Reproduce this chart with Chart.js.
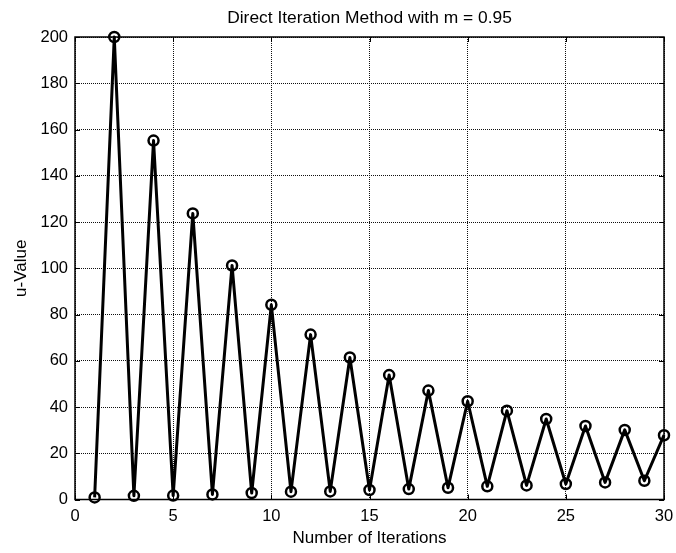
<!DOCTYPE html>
<html lang="en">
<head>
    <meta charset="UTF-8">
    <title>Direct Iteration Method</title>
    <style>
        html, body { margin: 0; padding: 0; background: #fff; }
        canvas { display: block; }
    </style>
</head>
<body>
    <canvas id="myChart" width="676" height="553"></canvas>

    <script src="https://cdn.jsdelivr.net/npm/chart.js"></script>
    <script>
        // data
        var iterations = [1, 2, 3, 4, 5, 6, 7, 8, 9, 10, 11, 12, 13, 14, 15,
                          16, 17, 18, 19, 20, 21, 22, 23, 24, 25, 26, 27, 28, 29, 30];
        var uValues = [0.9, 200, 1.6, 155.2, 1.7, 123.7, 2.2, 101.2, 2.8, 84.2,
                       3.4, 71.3, 3.5, 61.4, 4.1, 53.8, 4.5, 47.1, 5.1, 42.5,
                       5.7, 38.4, 6.1, 34.8, 6.7, 31.8, 7.4, 30.1, 8.1, 27.8];
        var xTicks = [0, 5, 10, 15, 20, 25, 30];
        var yTicks = [0, 20, 40, 60, 80, 100, 120, 140, 160, 180, 200];

        var fontFamily = 'Arial, "Liberation Sans", sans-serif';

        // box round the plot and small inward ticks, matlab style
        var boxPlugin = {
            id: 'box',
            afterDraw: function (chart) {
                var ctx = chart.ctx;
                var a = chart.chartArea;
                var xs = chart.scales.x;
                var ys = chart.scales.y;
                ctx.save();
                ctx.strokeStyle = '#000';
                ctx.lineWidth = 1;
                ctx.beginPath();
                xTicks.forEach(function (t) {
                    var px = Math.round(xs.getPixelForValue(t)) + 0.5;
                    ctx.moveTo(px, a.bottom); ctx.lineTo(px, a.bottom - 5);
                    ctx.moveTo(px, a.top); ctx.lineTo(px, a.top + 5);
                });
                yTicks.forEach(function (t) {
                    var py = Math.round(ys.getPixelForValue(t)) + 0.5;
                    ctx.moveTo(a.left, py); ctx.lineTo(a.left + 5, py);
                    ctx.moveTo(a.right, py); ctx.lineTo(a.right - 5, py);
                });
                ctx.stroke();
                ctx.lineWidth = 1.5;
                ctx.strokeRect(a.left, a.top, a.right - a.left, a.bottom - a.top);
                ctx.restore();
            }
        };

        var ctx = document.getElementById('myChart').getContext('2d');
        var myChart = new Chart(ctx, {
            type: 'line',
            data: {
                datasets: [{
                    data: iterations.map(function (it, i) {
                        return { x: it, y: uValues[i] };
                    }),
                    borderColor: '#000',
                    borderWidth: 3,
                    borderJoinStyle: 'round',
                    pointStyle: 'circle',
                    pointRadius: 5,
                    pointBorderWidth: 2.5,
                    pointBorderColor: '#000',
                    pointBackgroundColor: 'rgba(0,0,0,0)',
                    tension: 0,
                    fill: false,
                    clip: false
                }]
            },
            options: {
                responsive: false,
                animation: false,
                layout: { padding: { left: 0, right: 12, top: 0, bottom: 0 } },
                plugins: {
                    legend: { display: false },
                    tooltip: { enabled: false }
                },
                scales: {
                    x: {
                        type: 'linear',
                        min: 0,
                        max: 30,
                        afterBuildTicks: function (scale) {
                            scale.ticks = xTicks.map(function (v) { return { value: v }; });
                        },
                        afterFit: function (scale) {
                            scale.height = 53.5;
                            scale.paddingLeft = 0;
                            scale.paddingRight = 0;
                        },
                        grid: {
                            color: '#111',
                            lineWidth: 1,
                            drawTicks: false
                        },
                        border: { display: false, dash: [1, 1] },
                        ticks: {
                            color: '#000',
                            padding: 6.6,
                            maxRotation: 0,
                            font: { family: fontFamily, size: 16.5 }
                        },
                        title: {
                            display: true,
                            text: 'Number of Iterations',
                            color: '#000',
                            font: { family: fontFamily, size: 17 },
                            padding: { top: 0, bottom: 4 }
                        }
                    },
                    // top axis only carries the title, so it is centred over the plot
                    top: {
                        type: 'linear',
                        position: 'top',
                        min: 0,
                        max: 30,
                        afterFit: function (scale) {
                            scale.height = 37;
                            scale.paddingLeft = 0;
                            scale.paddingRight = 0;
                        },
                        grid: { display: false },
                        border: { display: false },
                        ticks: { display: false },
                        title: {
                            display: true,
                            text: 'Direct Iteration Method with m = 0.95',
                            color: '#000',
                            font: { family: fontFamily, size: 17.4 },
                            padding: { top: 7.8, bottom: 0 }
                        }
                    },
                    y: {
                        min: 0,
                        max: 200,
                        afterBuildTicks: function (scale) {
                            scale.ticks = yTicks.map(function (v) { return { value: v }; });
                        },
                        afterFit: function (scale) {
                            scale.width = 75;
                            scale.paddingTop = 0;
                            scale.paddingBottom = 0;
                        },
                        grid: {
                            color: '#111',
                            lineWidth: 1,
                            drawTicks: false
                        },
                        border: { display: false, dash: [1, 1] },
                        ticks: {
                            color: '#000',
                            padding: 7,
                            font: { family: fontFamily, size: 16.5 }
                        },
                        title: {
                            display: true,
                            text: 'u-Value',
                            color: '#000',
                            font: { family: fontFamily, size: 17 },
                            padding: { top: 11, bottom: 0 }
                        }
                    }
                }
            },
            plugins: [boxPlugin]
        });
    </script>
</body>
</html>
